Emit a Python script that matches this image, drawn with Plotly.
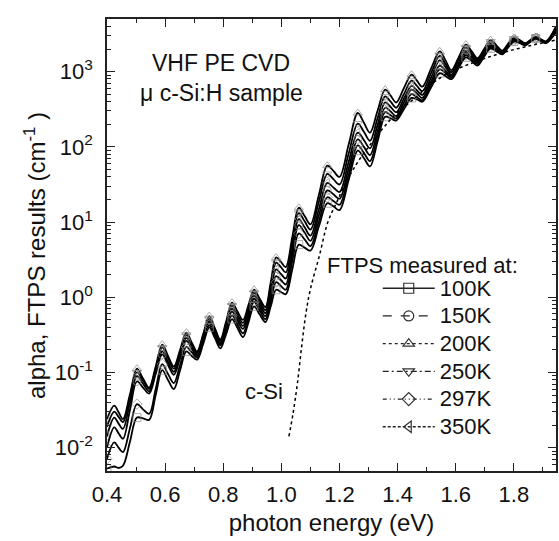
import plotly.graph_objects as go

# photon energy (eV): fringe maxima/minima and the points half-way between them
energy = [0.400, 0.425, 0.440, 0.455, 0.479, 0.503, 0.524, 0.545, 0.5675, 0.590,
          0.610, 0.630, 0.6515, 0.673, 0.6915, 0.710, 0.731, 0.752, 0.771, 0.790,
          0.810, 0.830, 0.849, 0.868, 0.887, 0.906, 0.9255, 0.945, 0.9635, 0.982,
          0.9985, 1.015, 1.0375, 1.060, 1.080, 1.100, 1.129, 1.158, 1.179, 1.200,
          1.2315, 1.263, 1.284, 1.305, 1.331, 1.357, 1.376, 1.395, 1.4215, 1.448,
          1.4665, 1.485, 1.515, 1.545, 1.565, 1.585, 1.610, 1.635, 1.655, 1.675,
          1.6975, 1.720, 1.740, 1.760, 1.780, 1.800, 1.820, 1.840, 1.8575, 1.875,
          1.8925, 1.910, 1.945]

temps = ["100K", "150K", "200K", "250K", "297K", "350K"]

# log10 of alpha (cm^-1)
log_alpha_200K = [-1.62, -1.44, -1.53, -1.62, -1.29, -0.95, -1.08, -1.20, -0.92, -0.63,
                  -0.78, -0.92, -0.70, -0.47, -0.60, -0.72, -0.49, -0.25, -0.41, -0.56,
                  -0.32, -0.07, -0.19, -0.30, -0.10, 0.10, -0.02, -0.13, 0.20, 0.53,
                  0.47, 0.40, 0.80, 1.19, 1.08, 0.97, 1.36, 1.75, 1.68, 1.60,
                  2.03, 2.45, 2.32, 2.19, 2.48, 2.76, 2.68, 2.59, 2.78, 2.96,
                  2.88, 2.80, 3.04, 3.27, 3.15, 3.02, 3.19, 3.36, 3.27, 3.18,
                  3.30, 3.42, 3.35, 3.28, 3.37, 3.45, 3.42, 3.38, 3.42, 3.46,
                  3.43, 3.40, 3.60]
log_alpha_250K = [-1.72, -1.52, -1.59, -1.66, -1.33, -1.00, -1.11, -1.22, -0.95, -0.67,
                  -0.81, -0.95, -0.73, -0.50, -0.62, -0.74, -0.51, -0.28, -0.43, -0.58,
                  -0.35, -0.11, -0.23, -0.34, -0.14, 0.06, -0.06, -0.17, 0.15, 0.46,
                  0.40, 0.33, 0.73, 1.12, 1.01, 0.90, 1.27, 1.64, 1.57, 1.50,
                  1.91, 2.31, 2.20, 2.08, 2.38, 2.67, 2.60, 2.52, 2.70, 2.88,
                  2.81, 2.74, 2.98, 3.21, 3.10, 2.99, 3.16, 3.32, 3.24, 3.16,
                  3.28, 3.40, 3.34, 3.27, 3.36, 3.44, 3.41, 3.37, 3.42, 3.46,
                  3.43, 3.40, 3.58]
log_alpha_350K = [-1.85, -1.60, -1.68, -1.75, -1.40, -1.05, -1.15, -1.25, -0.99, -0.72,
                  -0.86, -0.99, -0.77, -0.54, -0.65, -0.76, -0.54, -0.31, -0.46, -0.60,
                  -0.38, -0.15, -0.27, -0.38, -0.18, 0.02, -0.10, -0.21, 0.08, 0.37,
                  0.31, 0.25, 0.65, 1.04, 0.93, 0.82, 1.17, 1.52, 1.46, 1.40,
                  1.80, 2.19, 2.09, 1.98, 2.29, 2.59, 2.53, 2.46, 2.64, 2.81,
                  2.75, 2.69, 2.92, 3.15, 3.06, 2.96, 3.12, 3.28, 3.21, 3.14,
                  3.26, 3.37, 3.32, 3.26, 3.35, 3.43, 3.40, 3.37, 3.41, 3.45,
                  3.42, 3.39, 3.56]
log_alpha_150K = [-2.00, -1.73, -1.81, -1.88, -1.50, -1.12, -1.20, -1.28, -1.02, -0.76,
                  -0.90, -1.03, -0.81, -0.58, -0.68, -0.78, -0.56, -0.33, -0.48, -0.62,
                  -0.41, -0.19, -0.31, -0.42, -0.22, -0.02, -0.14, -0.25, 0.02, 0.28,
                  0.23, 0.17, 0.57, 0.96, 0.86, 0.75, 1.09, 1.42, 1.37, 1.31,
                  1.71, 2.10, 2.00, 1.89, 2.21, 2.52, 2.47, 2.41, 2.59, 2.76,
                  2.71, 2.65, 2.87, 3.08, 3.01, 2.94, 3.10, 3.25, 3.19, 3.12,
                  3.24, 3.35, 3.30, 3.25, 3.34, 3.42, 3.39, 3.36, 3.41, 3.45,
                  3.42, 3.39, 3.55]
log_alpha_297K = [-2.15, -1.93, -2.00, -2.06, -1.74, -1.42, -1.49, -1.55, -1.22, -0.89,
                  -1.02, -1.14, -0.90, -0.66, -0.73, -0.80, -0.59, -0.37, -0.51, -0.64,
                  -0.44, -0.24, -0.36, -0.48, -0.27, -0.06, -0.18, -0.29, -0.05, 0.20,
                  0.15, 0.10, 0.48, 0.85, 0.77, 0.68, 1.01, 1.33, 1.28, 1.23,
                  1.63, 2.02, 1.92, 1.81, 2.14, 2.46, 2.42, 2.38, 2.54, 2.70,
                  2.66, 2.62, 2.83, 3.03, 2.98, 2.92, 3.07, 3.22, 3.16, 3.10,
                  3.22, 3.33, 3.29, 3.24, 3.33, 3.41, 3.39, 3.36, 3.40, 3.44,
                  3.41, 3.38, 3.54]
log_alpha_100K = [-2.28, -2.25, -2.27, -2.24, -1.92, -1.60, -1.61, -1.63, -1.30, -0.97,
                  -1.10, -1.22, -0.97, -0.72, -0.78, -0.83, -0.62, -0.40, -0.54, -0.68,
                  -0.49, -0.29, -0.41, -0.53, -0.33, -0.12, -0.23, -0.33, -0.12, 0.10,
                  0.07, 0.04, 0.37, 0.70, 0.66, 0.62, 0.94, 1.25, 1.21, 1.16,
                  1.56, 1.95, 1.85, 1.74, 2.07, 2.40, 2.38, 2.35, 2.50, 2.65,
                  2.63, 2.60, 2.79, 2.98, 2.94, 2.90, 3.05, 3.19, 3.14, 3.08,
                  3.20, 3.31, 3.27, 3.23, 3.32, 3.40, 3.38, 3.35, 3.40, 3.44,
                  3.41, 3.38, 3.52]

# crystalline silicon reference curve
csi_energy = [1.026, 1.040, 1.055, 1.070, 1.085, 1.100, 1.130, 1.160, 1.190, 1.220,
              1.260, 1.300, 1.380, 1.460, 1.560, 1.660, 1.760, 1.850, 1.945]
csi_log_alpha = [-1.85, -1.55, -1.15, -0.65, -0.20, 0.11, 0.54, 1.00, 1.26, 1.51,
                 1.78, 2.00, 2.38, 2.65, 2.95, 3.12, 3.25, 3.34, 3.42]

series = [
    ("200K", log_alpha_200K), ("250K", log_alpha_250K), ("350K", log_alpha_350K),
    ("150K", log_alpha_150K), ("297K", log_alpha_297K), ("100K", log_alpha_100K),
]
symbols = {"100K": "square-open", "150K": "circle-open", "200K": "triangle-up-open",
           "250K": "triangle-down-open", "297K": "diamond-open", "350K": "triangle-left-open"}
dashes = {"100K": "solid", "150K": "dash", "200K": "dot",
          "250K": "6px,3px,2px,3px", "297K": "4px,3px,1px,3px,1px,3px", "350K": "3px,2px"}

FONT = "Liberation Sans, Arial, sans-serif"
msizes = [8 if (i == 0 or (i % 4 == 1 and 5 <= i <= 69)) else 0 for i in range(len(energy))]

fig = go.Figure()
for name, logs in series:
    fig.add_trace(go.Scatter(
        x=energy, y=[10 ** v for v in logs], mode="lines+markers", showlegend=False,
        line=dict(color="black", width=1.8, shape="spline", smoothing=1.0),
        marker=dict(symbol=symbols[name], size=msizes, color="#8a8a8a",
                    line=dict(color="#8a8a8a", width=1)),
    ))

fig.add_trace(go.Scatter(
    x=csi_energy, y=[10 ** v for v in csi_log_alpha], mode="lines", showlegend=False,
    line=dict(color="black", width=1.5, dash="dot", shape="spline"),
))

for name in temps:
    fig.add_trace(go.Scatter(
        x=[None], y=[None], mode="lines+markers",
        name="<span style='font-size:22px'>" + name + "</span>",
        line=dict(color="#222222", width=1.3, dash=dashes[name]),
        marker=dict(symbol=symbols[name], size=10, color="#333333",
                    line=dict(color="#333333", width=1.2)),
    ))

axis_common = dict(
    showline=True, linecolor="#222222", linewidth=1.5, mirror="ticks",
    ticks="inside", ticklen=8, tickwidth=1.3, tickcolor="#222222",
    showgrid=False, zeroline=False,
    tickfont=dict(family=FONT, size=22, color="#111111"),
)

fig.update_xaxes(
    range=[0.4, 1.945], tick0=0.4, dtick=0.2, tickformat=".1f",
    minor=dict(ticks="inside", ticklen=4, dtick=0.1, tickcolor="#222222", showgrid=False),
    title=dict(text="photon energy (eV)", font=dict(family=FONT, size=24, color="#111111"), standoff=8),
    ticklabelstandoff=3,
    **axis_common,
)
fig.update_yaxes(
    type="log", range=[-2.31, 3.70],
    tickvals=[0.01, 0.1, 1, 10, 100, 1000],
    ticktext=["10<sup>-2</sup>", "10<sup>-1</sup>", "10<sup>0</sup>",
              "10<sup>1</sup>", "10<sup>2</sup>", "10<sup>3</sup>"],
    minor=dict(ticks="inside", ticklen=4, dtick="D1", tickcolor="#222222", showgrid=False),
    ticklabelstandoff=8,
    **axis_common,
)

fig.add_annotation(x=-0.16, y=0.476, xref="paper", yref="paper", textangle=-90,
                   text="alpha, FTPS results (cm<sup>-1</sup> )", showarrow=False,
                   xanchor="center", yanchor="middle",
                   font=dict(family=FONT, size=24, color="#111111"))

ann_font = dict(family=FONT, size=22, color="#111111")
fig.add_annotation(x=0.793, y=3.12, xref="x", yref="y", text="VHF PE CVD",
                   showarrow=False, font=dict(family=FONT, size=23, color="#111111"))
fig.add_annotation(x=0.793, y=2.72, xref="x", yref="y", text="μ c-Si:H sample",
                   showarrow=False, font=dict(family=FONT, size=23, color="#111111"))
fig.add_annotation(x=1.487, y=0.424, xref="x", yref="y", text="FTPS measured at:",
                   showarrow=False, font=ann_font)
fig.add_annotation(x=0.94, y=-1.25, xref="x", yref="y", text="c-Si",
                   showarrow=False, font=ann_font)

fig.update_layout(
    width=559, height=541,
    margin=dict(l=107, r=1, t=19, b=70),
    paper_bgcolor="white", plot_bgcolor="white",
    font=dict(family=FONT, size=22, color="#111111"),
    legend=dict(x=0.603, y=0.446, xanchor="left", yanchor="top",
                bgcolor="rgba(0,0,0,0)", font=dict(family=FONT, size=19, color="#111111"),
                itemwidth=52, tracegroupgap=0),
)

fig.write_html("out.html")
